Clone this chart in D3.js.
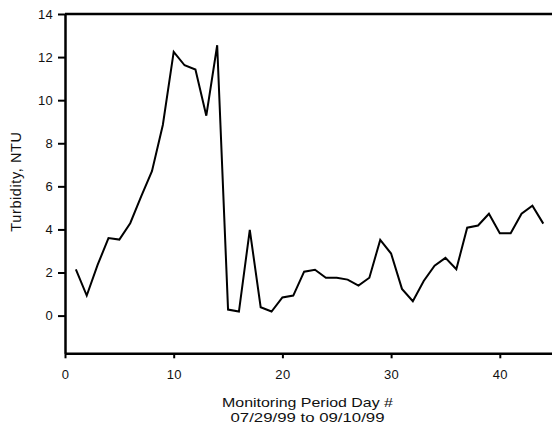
<!DOCTYPE html>
<html>
<head>
<meta charset="utf-8">
<script src="https://cdn.jsdelivr.net/npm/d3@7"></script>
<style>
  html, body { margin: 0; padding: 0; background: #fff; }
  svg { display: block; }
  text { font-family: "Liberation Sans", Arial, Helvetica, sans-serif; fill: #111; }
</style>
</head>
<body>
<svg id="chart" width="552" height="427"></svg>
<script>
// Daily turbidity readings, monitoring period 07/29/99 - 09/10/99
const days = d3.range(1, 45);
const turbidity = [
  2.15, 0.93, 2.35, 3.60, 3.53, 4.29, 5.52, 6.70, 8.85, 12.24,
  11.62, 11.42, 9.28, 12.55, 0.28, 0.19, 3.98, 0.39, 0.19, 0.84,
  0.93, 2.04, 2.13, 1.76, 1.76, 1.67, 1.39, 1.76, 3.51, 2.88,
  1.24, 0.67, 1.61, 2.32, 2.68, 2.15, 4.08, 4.18, 4.73, 3.82,
  3.82, 4.73, 5.10, 4.27
];
const xTicks = [0, 10, 20, 30, 40];
const yTicks = [0, 2, 4, 6, 8, 10, 12, 14];
const xTitle = ["Monitoring Period Day #", "07/29/99 to 09/10/99"];
const yTitle = "Turbidity, NTU";

const svg = d3.select("#chart");
const plotLeft = 65, plotTop = 14, plotBottom = 353.3;

const x = d3.scaleLinear().domain([0, 45]).range([plotLeft, plotLeft + 45 * 10.87]);
const y = d3.scaleLinear().domain([-1.75, 14]).range([plotBottom, plotTop]);

// Data line
const line = d3.line().x((d, i) => x(days[i])).y(d => y(d));
svg.append("path")
  .datum(turbidity)
  .attr("d", line)
  .attr("fill", "none")
  .attr("stroke", "#000")
  .attr("stroke-width", 2)
  .attr("stroke-linejoin", "miter");

// Axes
const xAxis = d3.axisBottom(x).tickValues(xTicks).tickSize(5).tickPadding(11).tickSizeOuter(0);
const yAxis = d3.axisLeft(y).tickValues(yTicks).tickSize(7).tickPadding(5).tickSizeOuter(0);

const gx = svg.append("g").attr("transform", `translate(0,${plotBottom})`).call(xAxis);
const gy = svg.append("g").attr("transform", `translate(${plotLeft},0)`).call(yAxis);

[gx, gy].forEach(g => {
  g.select(".domain").attr("stroke", "#000").attr("stroke-width", 2.5);
  g.selectAll(".tick line").attr("stroke", "#000").attr("stroke-width", 2);
  g.selectAll(".tick text")
    .attr("font-family", "Liberation Sans, Arial, sans-serif")
    .attr("font-size", 13)
    .attr("letter-spacing", 0.3)
    .attr("fill", "#111");
});

// Top border
svg.append("line")
  .attr("x1", plotLeft).attr("x2", x(45))
  .attr("y1", y(14)).attr("y2", y(14))
  .attr("stroke", "#000").attr("stroke-width", 2.5);

// Titles
svg.append("text")
  .attr("transform", `translate(20.5,${181.5}) rotate(-90)`)
  .attr("text-anchor", "middle")
  .attr("font-size", 14.5)
  .attr("letter-spacing", 0.6)
  .text(yTitle);

// Two-line x title, glyphs widened to fill each line's width
const xTitleWidths = [171, 154];
svg.selectAll(".xtitle")
  .data(xTitle)
  .join("text")
  .attr("class", "xtitle")
  .attr("x", 307.5)
  .attr("y", (d, i) => 407 + i * 15)
  .attr("text-anchor", "middle")
  .attr("font-size", 13)
  .attr("textLength", (d, i) => xTitleWidths[i])
  .attr("lengthAdjust", "spacingAndGlyphs")
  .text(d => d);
</script>
</body>
</html>
